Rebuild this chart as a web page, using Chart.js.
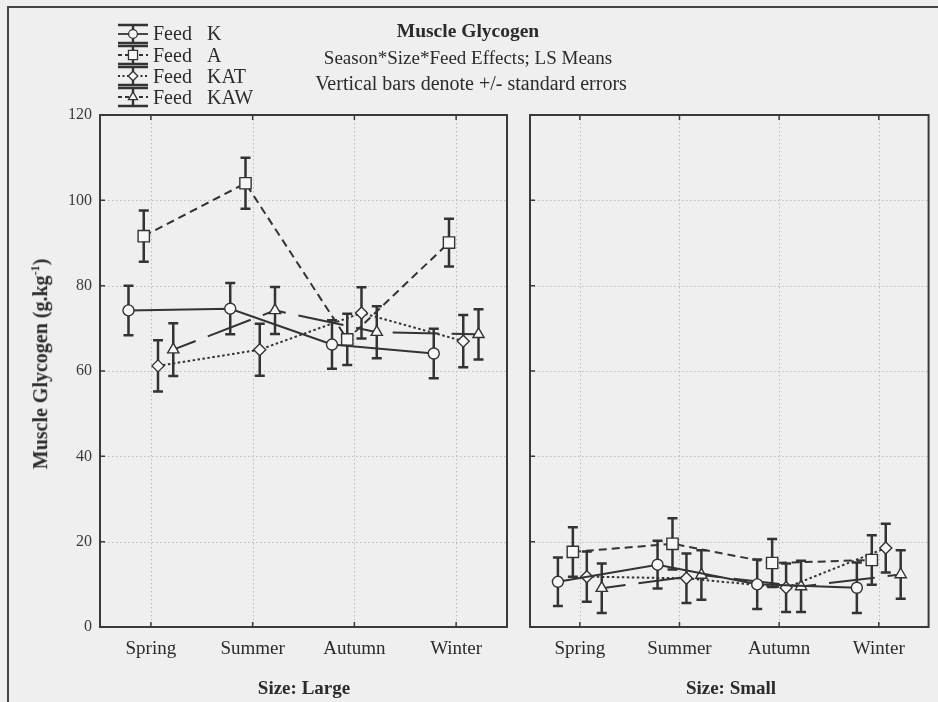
<!DOCTYPE html>
<html>
<head>
<meta charset="utf-8">
<title>Muscle Glycogen</title>
<script src="https://cdn.jsdelivr.net/npm/chart.js@4.4.1/dist/chart.umd.min.js"></script>
<style>
    html, body { margin: 0; padding: 0; background: #efefef; }
    #figure {
        position: relative; width: 938px; height: 702px; overflow: hidden;
        background: #efefef; color: #2b2b2b;
        font-family: 'Liberation Serif', 'Times New Roman', serif;
    }
    #figure canvas { position: absolute; left: 0; top: 0; }
    .frame {
        position: absolute; left: 7px; top: 6px; width: 1000px; height: 800px;
        border-left: 2px solid #454545; border-top: 2px solid #454545;
    }
    .txt { position: absolute; white-space: nowrap; transform: translate(-50%, -50%); }
    .left { transform: translate(0, -50%); }
    .title { font-weight: bold; font-size: 19.5px; }
    .sub { font-size: 19px; }
    .sub.wide { font-size: 20px; }
    .leg { font-size: 20px; }
    .ytitle { font-weight: bold; font-size: 20px; transform: translate(-50%, -50%) rotate(-90deg); }
    .ytitle sup { font-size: 12px; }
    .size { font-weight: bold; font-size: 19px; }
</style>
</head>
<body>
<div id="figure">
    <div class="frame"></div>
    <canvas id="largeChart" width="938" height="702"></canvas>
    <canvas id="smallChart" width="938" height="702"></canvas>

    <div class="txt title" style="left:468px; top:31px;">Muscle Glycogen</div>
    <div class="txt sub" style="left:468px; top:58px;">Season*Size*Feed Effects; LS Means</div>
    <div class="txt sub wide" style="left:471px; top:83px;">Vertical bars denote +/- standard errors</div>

    <div class="txt left leg" style="left:153px; top:33px;">Feed</div>
    <div class="txt left leg" style="left:207px; top:33px;">K</div>
    <div class="txt left leg" style="left:153px; top:55px;">Feed</div>
    <div class="txt left leg" style="left:207px; top:55px;">A</div>
    <div class="txt left leg" style="left:153px; top:76px;">Feed</div>
    <div class="txt left leg" style="left:207px; top:76px;">KAT</div>
    <div class="txt left leg" style="left:153px; top:97px;">Feed</div>
    <div class="txt left leg" style="left:207px; top:97px;">KAW</div>

    <div class="txt ytitle" style="left:40px; top:364px;">Muscle Glycogen (g.kg<sup>-1</sup>)</div>
    <div class="txt size" style="left:304px; top:688px;">Size: Large</div>
    <div class="txt size" style="left:731px; top:688px;">Size: Small</div>
</div>

<script>
// Seasons on the x axis, feeds as series
const seasons = ['Spring', 'Summer', 'Autumn', 'Winter'];
const feeds = ['K', 'A', 'KAT', 'KAW'];
const yTicks = [0, 20, 40, 60, 80, 100, 120];

// LS means (g.kg-1), large animals
const largeK = [74.2, 74.6, 66.2, 64.1];
const largeA = [91.6, 104.0, 67.4, 90.1];
const largeKAT = [61.2, 65.0, 73.6, 67.0];
const largeKAW = [65.0, 74.2, 69.1, 68.6];

// standard errors, large animals
const largeKErr = [5.8, 6.0, 5.7, 5.8];
const largeAErr = [6.0, 6.0, 6.0, 5.6];
const largeKATErr = [6.0, 6.1, 6.0, 6.1];
const largeKAWErr = [6.2, 5.5, 6.1, 5.9];

// LS means (g.kg-1), small animals
const smallK = [10.6, 14.6, 10.0, 9.2];
const smallA = [17.6, 19.5, 15.0, 15.7];
const smallKAT = [11.8, 11.4, 9.2, 18.5];
const smallKAW = [9.1, 12.2, 9.5, 12.3];

// standard errors, small animals
const smallKErr = [5.7, 5.6, 5.8, 5.9];
const smallAErr = [5.8, 6.0, 5.6, 5.8];
const smallKATErr = [5.9, 5.8, 5.7, 5.7];
const smallKAWErr = [5.8, 5.8, 6.0, 5.7];

// Look of each feed series, in the same order as feeds
const INK = '#333333';
const feedOffset = [-0.22, -0.07, 0.07, 0.22];
const feedDash = [[], [8, 5], [2.5, 2.5], [24, 13, 46, 13]];
const feedPoint = ['circle', 'rect', 'rectRot', 'triangle'];
const feedRadius = [5.5, 8, 6, 6.5];
const legendRows = [34, 55, 76, 97];

Chart.defaults.font.family = "'Liberation Serif', 'Times New Roman', serif";
Chart.defaults.color = '#2b2b2b';

function buildDatasets(means, errors) {
    return feeds.map((feed, f) => ({
        label: 'Feed ' + feed,
        data: means[f].map((v, i) => ({ x: i + feedOffset[f], y: v })),
        errors: errors[f],
        borderColor: INK,
        borderWidth: 2,
        borderDash: feedDash[f],
        pointStyle: feedPoint[f],
        pointRadius: feedRadius[f],
        pointBackgroundColor: '#f7f7f7',
        pointBorderColor: INK,
        pointBorderWidth: 1.4,
        tension: 0,
        fill: false
    }));
}

// dotted grid, error bars underneath, then the box and inward ticks on top
const panelDecor = {
    id: 'panelDecor',
    beforeDatasetsDraw(chart) {
        const ctx = chart.ctx;
        const area = chart.chartArea;
        const xs = chart.scales.x;
        const ys = chart.scales.y;
        ctx.save();
        ctx.strokeStyle = '#bdbdbd';
        ctx.lineWidth = 1;
        ctx.setLineDash([1.5, 2.5]);
        yTicks.slice(1, -1).forEach(v => {
            const y = Math.round(ys.getPixelForValue(v)) + 0.5;
            ctx.beginPath();
            ctx.moveTo(area.left, y);
            ctx.lineTo(area.right, y);
            ctx.stroke();
        });
        seasons.forEach((s, i) => {
            const x = Math.round(xs.getPixelForValue(i)) + 0.5;
            ctx.beginPath();
            ctx.moveTo(x, area.top);
            ctx.lineTo(x, area.bottom);
            ctx.stroke();
        });

        ctx.setLineDash([]);
        ctx.strokeStyle = INK;
        ctx.lineWidth = 2.5;
        chart.data.datasets.forEach((ds, d) => {
            const meta = chart.getDatasetMeta(d);
            meta.data.forEach((pt, i) => {
                const v = ds.data[i].y;
                const top = ys.getPixelForValue(v + ds.errors[i]);
                const bot = ys.getPixelForValue(v - ds.errors[i]);
                ctx.beginPath();
                ctx.moveTo(pt.x, top);
                ctx.lineTo(pt.x, bot);
                ctx.moveTo(pt.x - 5, top);
                ctx.lineTo(pt.x + 5, top);
                ctx.moveTo(pt.x - 5, bot);
                ctx.lineTo(pt.x + 5, bot);
                ctx.stroke();
            });
        });
        ctx.restore();
    },
    afterDatasetsDraw(chart) {
        const ctx = chart.ctx;
        const area = chart.chartArea;
        const xs = chart.scales.x;
        const ys = chart.scales.y;
        ctx.save();
        ctx.strokeStyle = '#3a3a3a';
        ctx.lineWidth = 2;
        ctx.strokeRect(area.left, area.top, area.right - area.left, area.bottom - area.top);
        ctx.lineWidth = 1.5;
        ctx.beginPath();
        yTicks.forEach(v => {
            const y = ys.getPixelForValue(v);
            ctx.moveTo(area.left, y);
            ctx.lineTo(area.left + 5, y);
        });
        seasons.forEach((s, i) => {
            const x = xs.getPixelForValue(i);
            ctx.moveTo(x, area.bottom);
            ctx.lineTo(x, area.bottom - 5);
            ctx.moveTo(x, area.top);
            ctx.lineTo(x, area.top + 5);
        });
        ctx.stroke();
        ctx.restore();
    }
};

// error-bar legend samples next to the "Feed" captions
const feedLegend = {
    id: 'feedLegend',
    afterDraw(chart) {
        const ctx = chart.ctx;
        const cx = 133;
        ctx.save();
        chart.data.datasets.forEach((ds, d) => {
            const y = legendRows[d];
            ctx.strokeStyle = INK;
            ctx.setLineDash([]);
            ctx.lineWidth = 2.4;
            ctx.beginPath();
            ctx.moveTo(118, y - 9);
            ctx.lineTo(148, y - 9);
            ctx.moveTo(118, y + 9);
            ctx.lineTo(148, y + 9);
            ctx.moveTo(cx, y - 9);
            ctx.lineTo(cx, y + 9);
            ctx.stroke();
            ctx.lineWidth = 1.8;
            ctx.setLineDash(ds.borderDash.length ? [4, 3] : []);
            if (d === 2) ctx.setLineDash([2, 2.5]);
            ctx.beginPath();
            ctx.moveTo(118, y);
            ctx.lineTo(148, y);
            ctx.stroke();
            ctx.setLineDash([]);
            ctx.fillStyle = '#f7f7f7';
            ctx.lineWidth = 1.3;
            Chart.helpers.drawPoint(ctx, {
                pointStyle: ds.pointStyle,
                radius: ds.pointRadius * 0.8,
                rotation: 0,
                borderWidth: 1.3
            }, cx, y);
        });
        ctx.restore();
    }
};

// chart area of each panel is fixed by the padding plus the fixed scale sizes
const Y_AXIS_W = 60;
const X_AXIS_H = 50;

function makePanel(canvasId, datasets, padding, showYLabels, extraPlugins) {
    return new Chart(document.getElementById(canvasId), {
        type: 'line',
        data: { datasets: datasets },
        options: {
            responsive: false,
            animation: false,
            devicePixelRatio: 1,
            layout: { padding: padding },
            plugins: { legend: { display: false }, tooltip: { enabled: false } },
            scales: {
                x: {
                    type: 'linear',
                    min: -0.5,
                    max: 3.5,
                    afterFit: s => { s.height = X_AXIS_H; },
                    afterBuildTicks: s => { s.ticks = seasons.map((n, i) => ({ value: i })); },
                    grid: { display: false, drawTicks: false },
                    border: { display: false },
                    ticks: {
                        autoSkip: false,
                        maxRotation: 0,
                        padding: 11,
                        font: { size: 19 },
                        callback: v => seasons[v]
                    }
                },
                y: {
                    min: 0,
                    max: 120,
                    afterFit: s => { s.width = showYLabels ? Y_AXIS_W : 0; },
                    afterBuildTicks: s => { s.ticks = yTicks.map(v => ({ value: v })); },
                    grid: { display: false, drawTicks: false },
                    border: { display: false },
                    ticks: {
                        display: showYLabels,
                        padding: 8,
                        font: { size: 16 },
                        color: '#3a3a3a'
                    }
                }
            }
        },
        plugins: [panelDecor].concat(extraPlugins)
    });
}

makePanel('largeChart',
    buildDatasets([largeK, largeA, largeKAT, largeKAW], [largeKErr, largeAErr, largeKATErr, largeKAWErr]),
    { left: 100 - Y_AXIS_W, right: 431, top: 115, bottom: 75 - X_AXIS_H }, true, [feedLegend]);

makePanel('smallChart',
    buildDatasets([smallK, smallA, smallKAT, smallKAW], [smallKErr, smallAErr, smallKATErr, smallKAWErr]),
    { left: 530, right: 6, top: 115, bottom: 75 - X_AXIS_H }, false, []);
</script>
</body>
</html>
